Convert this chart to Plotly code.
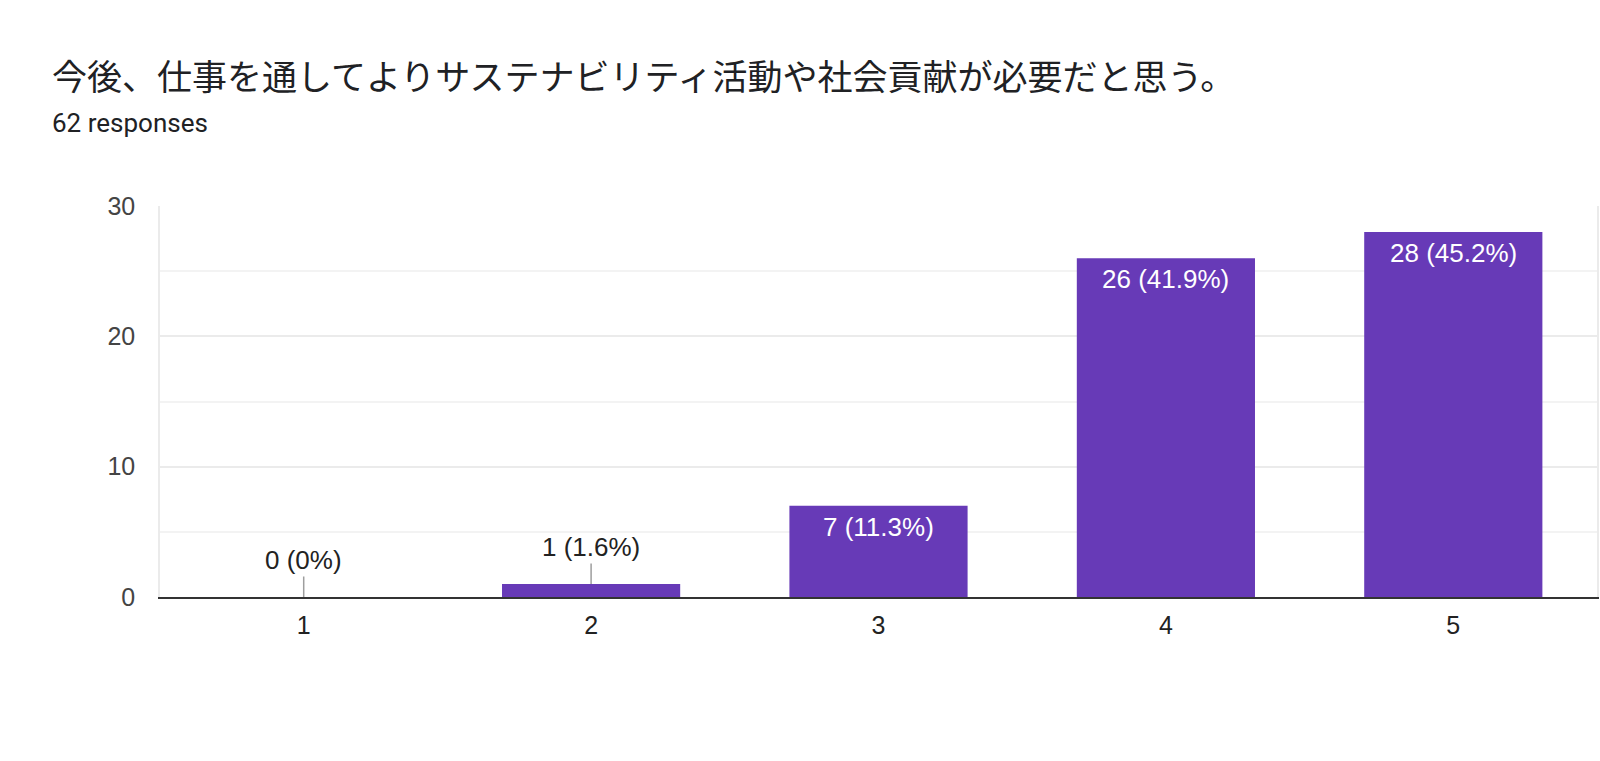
import plotly.graph_objects as go

categories = ["1", "2", "3", "4", "5"]
counts = [0, 1, 7, 26, 28]
labels = ["0 (0%)", "1 (1.6%)", "7 (11.3%)", "26 (41.9%)", "28 (45.2%)"]
y_ticks = [0, 10, 20, 30]
title_text = "今後、仕事を通してよりサステナビリティ活動や社会貢献が必要だと思う。"
subtitle_text = "62 responses"

BAR = "#673ab7"
LABEL_FONT = "Liberation Sans, Arial, sans-serif"

fig = go.Figure()
fig.add_trace(go.Bar(x=categories, y=counts, marker=dict(color=BAR, line=dict(width=0)),
                     hoverinfo="skip"))

# category axis: annotation x given as category index
for i, (v, t) in enumerate(zip(counts, labels)):
    if v < 3:
        fig.add_annotation(x=i, y=v, text=t, showarrow=True, ax=0, ay=-37,
                           arrowhead=0, arrowwidth=1.5, arrowcolor="#9e9e9e", standoff=0,
                           font=dict(family=LABEL_FONT, size=26, color="#222222"))
    else:
        fig.add_annotation(x=i, y=v, text=t, showarrow=False, yanchor="top", yshift=-4,
                           font=dict(family=LABEL_FONT, size=26, color="#ffffff"))

fig.add_annotation(xref="paper", yref="paper", x=-160/1439, y=1 + (206 - 75) / 391,
                   xanchor="left", yanchor="middle", showarrow=False, text=title_text,
                   xshift=50,
                   font=dict(family="Noto Sans CJK JP", size=35, color="#202124"))
fig.add_annotation(xref="paper", yref="paper", x=-160/1439, y=1 + (206 - 123) / 391,
                   xanchor="left", yanchor="middle", showarrow=False, text=subtitle_text,
                   xshift=50,
                   font=dict(family="Roboto", size=26, color="#202124"))

fig.update_layout(
    width=1600, height=761,
    margin=dict(l=160, r=1, t=206, b=164),
    paper_bgcolor="white", plot_bgcolor="white",
    bargap=0.38, showlegend=False,
    xaxis=dict(type="category", range=[-0.5, len(categories) - 0.5], showgrid=False,
               showline=True, linecolor="#333333", linewidth=2,
               ticks="", ticklabelstandoff=5,
               tickfont=dict(family=LABEL_FONT, size=25, color="#222222")),
    yaxis=dict(range=[0, 30], tickvals=y_ticks, showgrid=True, gridcolor="#ebebeb",
               gridwidth=1.5, zeroline=False, showline=True, mirror=True,
               linecolor="#ebebeb", linewidth=1.5, ticks="", ticklabelstandoff=18,
               tickfont=dict(family=LABEL_FONT, size=25, color="#444444"),
               minor=dict(dtick=5, showgrid=True, gridcolor="#f3f3f3", gridwidth=1.5)),
)

fig.write_html("out.html")
